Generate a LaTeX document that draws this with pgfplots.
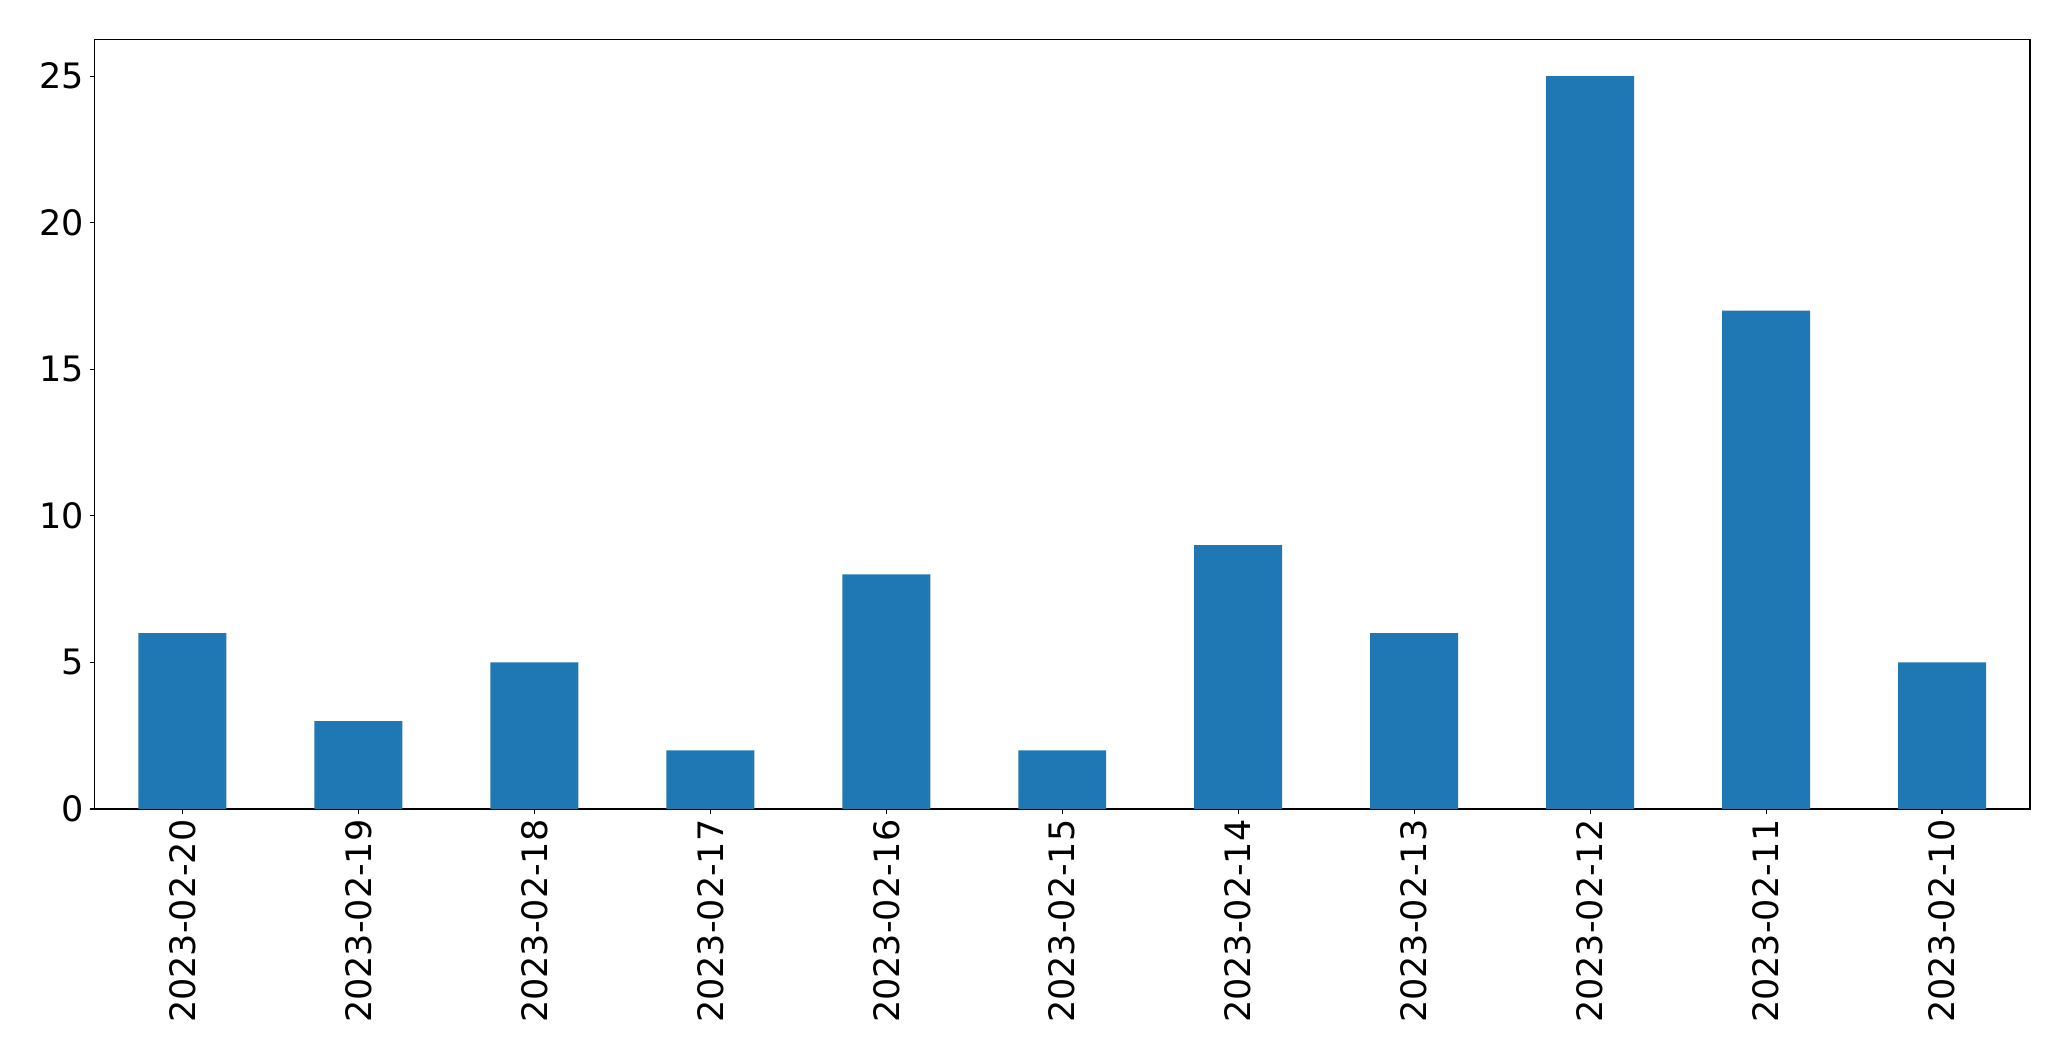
\documentclass[border=0pt]{standalone}
\usepackage{pgfplots}
\pgfplotsset{compat=1.18}
\usepackage{fontspec}
\setmainfont{DejaVu Sans}
\definecolor{cz}{HTML}{1F77B4}
\begin{document}
\begin{tikzpicture}
\path[use as bounding box] (-37.8pt,-100.8pt) rectangle (790.6pt,323.6pt);
\begin{axis}[
  at={(0,0)}, anchor=south west,
  scale only axis,
  width=774.2pt, height=307.8pt,
  xmin=-0.5, xmax=10.5,
  ymin=0, ymax=26.25,
  xtick={0,...,10},
  xticklabels={2023-02-20,2023-02-19,2023-02-18,2023-02-17,2023-02-16,2023-02-15,2023-02-14,2023-02-13,2023-02-12,2023-02-11,2023-02-10},
  ytick={0,5,10,15,20,25},
  tick align=outside,
  tick pos=left,
  major tick length=2pt,
  every tick/.style={black, line width=0.44pt},
  axis line style={line width=0.44pt},
  /pgf/number format/assume math mode=true,
  tick label style={font=\fontsize{14}{16}\selectfont},
  xticklabel style={rotate=90, anchor=east, inner sep=2pt},
  yticklabel style={inner sep=2pt},
  clip=false,
]
\addplot[ybar, bar width=0.5, fill=cz, draw=none] coordinates {
(0,6) (1,3) (2,5) (3,2) (4,8) (5,2) (6,9) (7,6) (8,25) (9,17) (10,5)
};
\end{axis}
\end{tikzpicture}
\end{document}
